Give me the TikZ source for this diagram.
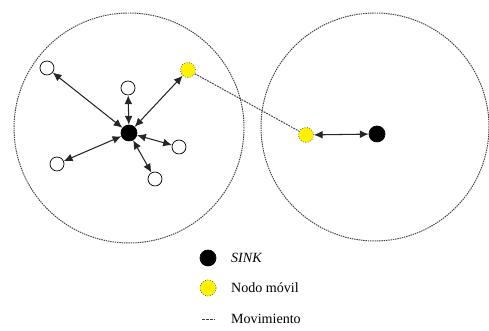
\documentclass[tikz,border=0pt]{standalone}
\usepackage{fontspec}
\setmainfont{Liberation Serif}
\usetikzlibrary{arrows.meta,positioning}

\begin{document}
\begin{tikzpicture}[
  font=\fontsize{8}{9}\selectfont,
  sink/.style={circle,fill=black,draw=black,minimum size=0.32cm,inner sep=0pt},
  nodo/.style={circle,fill=white,draw=black,minimum size=0.28cm,inner sep=0pt},
  movil/.style={circle,fill=yellow,draw=black!70,densely dotted,minimum size=0.3cm,inner sep=0pt},
  rango/.style={draw=black!75,dash pattern=on 0.8pt off 0.5pt,line width=0.55pt},
  enlace/.style={{Latex[length=5pt,width=4.5pt]}-{Latex[length=5pt,width=4.5pt]},draw=black!85,line width=0.6pt},
  mov/.style={draw=black!75,dash pattern=on 1pt off 0.6pt,line width=0.55pt}
]
\useasboundingbox (0,0) rectangle (9.78,6.62);

% zonas de cobertura
\node[rango,circle,minimum size=4.6cm,inner sep=0pt] (zona1) at (2.58,4.06) {};
\node[rango,circle,minimum size=4.56cm,inner sep=0pt] (zona2) at (7.5,4.08) {};

% primer cluster
\node[sink] (s1) at (2.58,3.96) {};
\node[nodo] (n1) at (0.94,5.26) {};
\node[nodo] (n2) at (2.56,4.86) {};
\node[nodo] (n3) at (3.58,3.68) {};
\node[nodo] (n4) at (1.14,3.34) {};
\node[nodo] (n5) at (3.10,3.04) {};
\node[movil] (m1) at (3.76,5.22) {};

\draw[enlace] (s1) -- (n1);
\draw[enlace] (s1) -- (n2);
\draw[enlace] (s1) -- (n3);
\draw[enlace] (s1) -- (n4);
\draw[enlace] (s1) -- (n5);
\draw[enlace] (s1) -- (m1);

% segundo cluster
\node[sink] (s2) at (7.54,3.94) {};
\node[movil] (m2) at (6.12,3.92) {};
\draw[enlace] (m2) -- (s2);

% movimiento del nodo movil
\draw[mov] (m1) -- (m2);

% leyenda
\node[sink] (lsink) at (4.16,1.46) {};
\node[movil,minimum size=0.32cm] (lmovil) at (4.16,0.86) {};
\coordinate (lmova) at (4.04,0.24);
\coordinate (lmovb) at (4.30,0.24);
\draw[draw=black!75,dash pattern=on 1.5pt off 0.8pt,line width=0.55pt] (lmova) -- (lmovb);
\node[anchor=west] (tsink) at (4.5,1.46) {\textit{SINK}};
\node[anchor=west] (tmovil) at (4.5,0.86) {Nodo móvil};
\node[anchor=west] (tmov) at (4.5,0.24) {Movimiento};
\end{tikzpicture}
\end{document}
